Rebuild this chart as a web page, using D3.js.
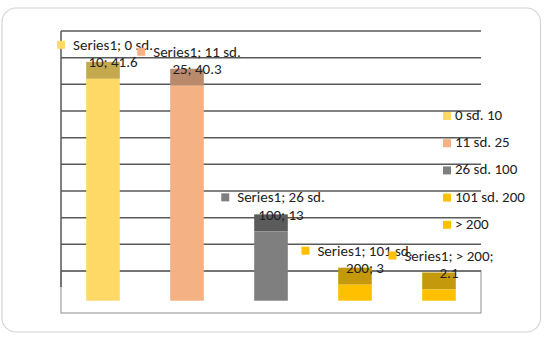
<!DOCTYPE html>
<html>
<head>
<meta charset="utf-8">
<script src="https://cdn.jsdelivr.net/npm/d3@7"></script>
<style>
  body { margin: 0; background: #fff; }
  text { font-family: Carlito, Lato, "Open Sans", sans-serif; font-size: 15px; fill: #222; }
</style>
</head>
<body>
<svg id="chart"></svg>
<script>
const width = 547;
const height = 338;

// data
const categories = ['0 sd. 10', '11 sd. 25', '26 sd. 100', '101 sd. 200', '> 200'];
const values = [41.6, 40.3, 13, 3, 2.1];
const seriesName = 'Series1';
const frontColors = ['#FFD966', '#F4B183', '#7F7F7F', '#FFC000', '#FFC000'];
const topColors = ['#C4A94E', '#B98A6C', '#5B5B5B', '#C49A0C', '#C49A0C'];
const yTicks = [0, 5, 10, 15, 20, 25, 30, 35, 40, 45];

const plotLeft = 61, plotRight = 481, plotTop = 31, wallBase = 271;
const backOff = 12.7, frontOff = 29.7, floorFront = 313;

const svg = d3.select('#chart').attr('width', width).attr('height', height);

// outer frame
svg.append('rect')
  .attr('x', 2).attr('y', 8).attr('width', 538.5).attr('height', 324)
  .attr('rx', 14).attr('ry', 14)
  .attr('fill', '#fff').attr('stroke', '#d4d4d4').attr('stroke-width', 1.2);

const x = d3.scaleBand().domain(categories).range([plotLeft, plotRight]).paddingInner(0.6).paddingOuter(0.3);
const y = d3.scaleLinear().domain([0, 45]).range([wallBase, plotTop]);

// floor
svg.append('rect')
  .attr('x', plotLeft).attr('y', wallBase).attr('width', plotRight - plotLeft).attr('height', floorFront - wallBase)
  .attr('fill', 'none').attr('stroke', '#a0a0a0').attr('stroke-width', 1.2);

// gridlines on back wall
svg.append('g').selectAll('line').data(yTicks).join('line')
  .attr('x1', plotLeft).attr('x2', plotRight)
  .attr('y1', d => y(d)).attr('y2', d => y(d))
  .attr('stroke', '#595959').attr('stroke-width', 1.5);

// wall left edge
svg.append('line')
  .attr('x1', plotLeft).attr('x2', plotLeft).attr('y1', plotTop).attr('y2', wallBase + 16)
  .attr('stroke', '#595959').attr('stroke-width', 1.5);

const data = categories.map((c, i) => ({ cat: c, value: values[i], front: frontColors[i], top: topColors[i] }));

const bars = svg.append('g').selectAll('g').data(data).join('g');

// top face
bars.append('rect')
  .attr('x', d => x(d.cat)).attr('width', x.bandwidth())
  .attr('y', d => y(d.value) + backOff)
  .attr('height', frontOff - backOff)
  .attr('fill', d => d.top);

// front face
bars.append('rect')
  .attr('x', d => x(d.cat)).attr('width', x.bandwidth())
  .attr('y', d => y(d.value) + frontOff)
  .attr('height', d => y(0) - y(d.value))
  .attr('fill', d => d.front);

// data labels, wrapped on two lines like the original
const labelLines = d => {
  if (d.cat === '> 200') return [`${seriesName}; > 200;`, `${d.value}`];
  const parts = d.cat.split(' ');
  return [`${seriesName}; ${parts[0]} ${parts[1]}`, `${parts[2]}; ${d.value}`];
};

const labels = svg.append('g').selectAll('g').data(data).join('g');
labels.each(function(d) {
  const g = d3.select(this);
  const cx = x(d.cat) + x.bandwidth() / 2 + 10;
  const base2 = y(d.value) + backOff + 5.5;
  const base1 = base2 - 17.5;
  const lines = labelLines(d);
  const t1 = g.append('text').attr('x', cx).attr('y', base1).attr('text-anchor', 'middle').text(lines[0]);
  g.append('text').attr('x', cx).attr('y', base2).attr('text-anchor', 'middle').text(lines[1]);
  const w = t1.node().getComputedTextLength();
  g.append('rect')
    .attr('x', cx - w / 2 - 16).attr('y', base1 - 9)
    .attr('width', 8).attr('height', 8)
    .attr('fill', d.front);
});

// legend
const legend = svg.append('g').selectAll('g').data(data).join('g')
  .attr('transform', (d, i) => `translate(443, ${120 + i * 27.2})`);
legend.append('rect').attr('x', 0).attr('y', -8).attr('width', 8).attr('height', 8).attr('fill', d => d.front);
legend.append('text').attr('x', 12).attr('y', 0).text(d => d.cat);
</script>
</body>
</html>
